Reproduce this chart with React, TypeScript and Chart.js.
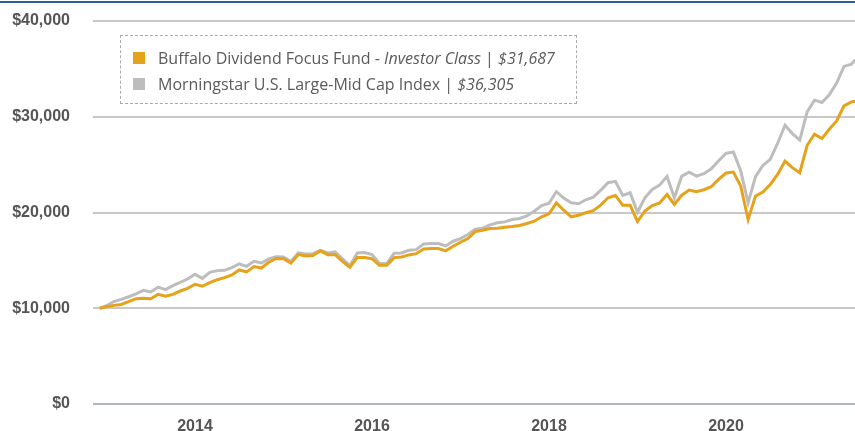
import React, { useEffect, useRef } from "react";
import { Chart, registerables } from "chart.js";

Chart.register(...registerables);

// Growth of $10,000 — first point is the fund inception (Dec 3, 2012), then month-ends Dec 2012 .. Jun 2021
const inceptionYear = 2012 + 11 / 12 + 2 / 365;
const firstMonthEndYear = 2013; // Dec 31, 2012 plotted at the start of 2013

const fundValues = [
  10000, 10150, 10300, 10400, 10700, 11000, 11050, 11000, 11450, 11250,
  11450, 11800, 12070, 12500, 12300, 12670, 12980, 13200, 13470, 14000,
  13800, 14350, 14200, 14800, 15200, 15180, 14730, 15600, 15460, 15500,
  16000, 15600, 15600, 14900, 14270, 15300, 15300, 15180, 14480, 14500,
  15290, 15360, 15570, 15700, 16200, 16230, 16230, 15990, 16470, 16890,
  17280, 18000, 18150, 18320, 18360, 18460, 18530, 18640, 18850, 19090,
  19550, 19860, 21000, 20240, 19550, 19720, 19970, 20200, 20770, 21540,
  21780, 20770, 20770, 19060, 20140, 20730, 21000, 21880, 20840, 21810,
  22340, 22170, 22380, 22690, 23460, 24120, 24220, 22750, 19270, 21710,
  22130, 22930, 23980, 25370, 24680, 24150, 27020, 28170, 27720, 28690,
  29560, 31130, 31550, 31687,
];

const indexValues = [
  10000, 10260, 10700, 10920, 11200, 11500, 11870, 11700, 12200, 11940,
  12360, 12700, 13050, 13540, 13120, 13750, 13930, 13960, 14240, 14630,
  14380, 14900, 14730, 15150, 15390, 15360, 14870, 15780, 15670, 15700,
  16050, 15780, 15880, 15150, 14450, 15780, 15810, 15600, 14690, 14660,
  15740, 15780, 16050, 16120, 16720, 16750, 16750, 16510, 17000, 17280,
  17700, 18250, 18360, 18710, 18920, 19020, 19270, 19370, 19650, 20140,
  20730, 20970, 22170, 21500, 21010, 20910, 21330, 21600, 22300, 23110,
  23250, 21780, 22060, 20030, 21540, 22410, 22860, 23770, 21540, 23800,
  24220, 23800, 24050, 24570, 25410, 26180, 26320, 24330, 21010, 23740,
  24920, 25550, 27230, 29110, 28240, 27570, 30500, 31730, 31490, 32280,
  33510, 35260, 35500, 36305,
];

const yearTicks = [2014, 2016, 2018, 2020];
const yTickValues = [0, 10000, 20000, 30000, 40000];

const fundName = "Buffalo Dividend Focus Fund - ";
const fundClass = "Investor Class";
const fundEnd = "$31,687";
const indexName = "Morningstar U.S. Large-Mid Cap Index";
const indexEnd = "$36,305";

const FUND_COLOR = "#E6A21A";
const INDEX_COLOR = "#BDBDBD";

const xPositions = fundValues.map((_, i) =>
  i === 0 ? inceptionYear : firstMonthEndYear + (i - 1) / 12
);

export default function App() {
  const canvasRef = useRef<HTMLCanvasElement | null>(null);

  useEffect(() => {
    const canvas = canvasRef.current;
    if (!canvas) return;
    const tickFont = { family: "'Liberation Sans', Arial, sans-serif", size: 16, weight: "bold" as const };
    const chart = new Chart(canvas, {
      type: "line",
      data: {
        datasets: [
          {
            label: "Buffalo Dividend Focus Fund - Investor Class",
            data: fundValues.map((v, i) => ({ x: xPositions[i], y: v })),
            borderColor: FUND_COLOR,
            backgroundColor: FUND_COLOR,
            borderWidth: 3,
            pointRadius: 0,
            tension: 0,
            fill: false,
          },
          {
            label: "Morningstar U.S. Large-Mid Cap Index",
            data: indexValues.map((v, i) => ({ x: xPositions[i], y: v })),
            borderColor: INDEX_COLOR,
            backgroundColor: INDEX_COLOR,
            borderWidth: 3,
            pointRadius: 0,
            tension: 0,
            fill: false,
          },
        ],
      },
      options: {
        animation: false,
        responsive: false,
        devicePixelRatio: 1,
        layout: { padding: { top: 21, left: 0, right: 0, bottom: 0 } },
        plugins: {
          legend: { display: false },
          tooltip: { enabled: false },
        },
        scales: {
          x: {
            type: "linear",
            min: 2012.8475,
            max: 2021.4576,
            grid: { display: false },
            border: { display: false },
            afterBuildTicks: (axis: any) => {
              axis.ticks = yearTicks.map((v) => ({ value: v }));
            },
            afterFit: (axis: any) => {
              axis.height = 27;
              axis.paddingLeft = 0;
              axis.paddingRight = 0;
            },
            ticks: {
              autoSkip: false,
              maxRotation: 0,
              padding: 5,
              color: "#555555",
              font: tickFont,
              callback: (v: any) => String(v),
            },
          },
          y: {
            min: 0,
            max: 40000,
            afterBuildTicks: (axis: any) => {
              axis.ticks = yTickValues.map((v) => ({ value: v }));
            },
            afterFit: (axis: any) => {
              axis.width = 93;
              axis.paddingTop = 0;
              axis.paddingBottom = 0;
            },
            border: { display: false },
            grid: {
              drawTicks: false,
              lineWidth: 2,
              color: (ctx: any) => (ctx.tick && ctx.tick.value === 0 ? "#B2B8C2" : "#C8C8C8"),
            },
            ticks: {
              padding: 23,
              color: "#555555",
              font: tickFont,
              callback: (v: any) => "$" + Number(v).toLocaleString("en-US"),
            },
          },
        },
      },
    });
    return () => chart.destroy();
  }, []);

  const legendText: React.CSSProperties = {
    fontFamily: "'Open Sans', sans-serif",
    fontSize: 16,
    color: "#5A5A5A",
    display: "flex",
    alignItems: "center",
    height: 26,
    whiteSpace: "nowrap",
  };
  const swatch = (c: string): React.CSSProperties => ({
    width: 12,
    height: 12,
    background: c,
    marginRight: 13,
    flex: "0 0 auto",
  });

  return (
    <div style={{ position: "fixed", left: 0, top: 0, width: 855, height: 431, background: "#fff", overflow: "hidden" }}>
      <canvas ref={canvasRef} width={855} height={431} style={{ position: "absolute", left: 0, top: 0, width: 855, height: 431 }} />
      <div style={{ position: "absolute", left: 0, top: 1, width: 855, height: 2, background: "#2D5E9A" }} />
      <div
        style={{
          position: "absolute",
          left: 120,
          top: 35,
          width: 455,
          height: 67,
          border: "1px dashed #AAAAAA",
          boxSizing: "content-box",
        }}
      >
        <div style={{ position: "absolute", left: 12, top: 9 }}>
          <div style={legendText}>
            <span style={swatch(FUND_COLOR)} />
            <span>
              {fundName}
              <i>{fundClass}</i>
              {" | "}
              <i>{fundEnd}</i>
            </span>
          </div>
          <div style={legendText}>
            <span style={swatch(INDEX_COLOR)} />
            <span>
              {indexName}
              {" | "}
              <i>{indexEnd}</i>
            </span>
          </div>
        </div>
      </div>
    </div>
  );
}
